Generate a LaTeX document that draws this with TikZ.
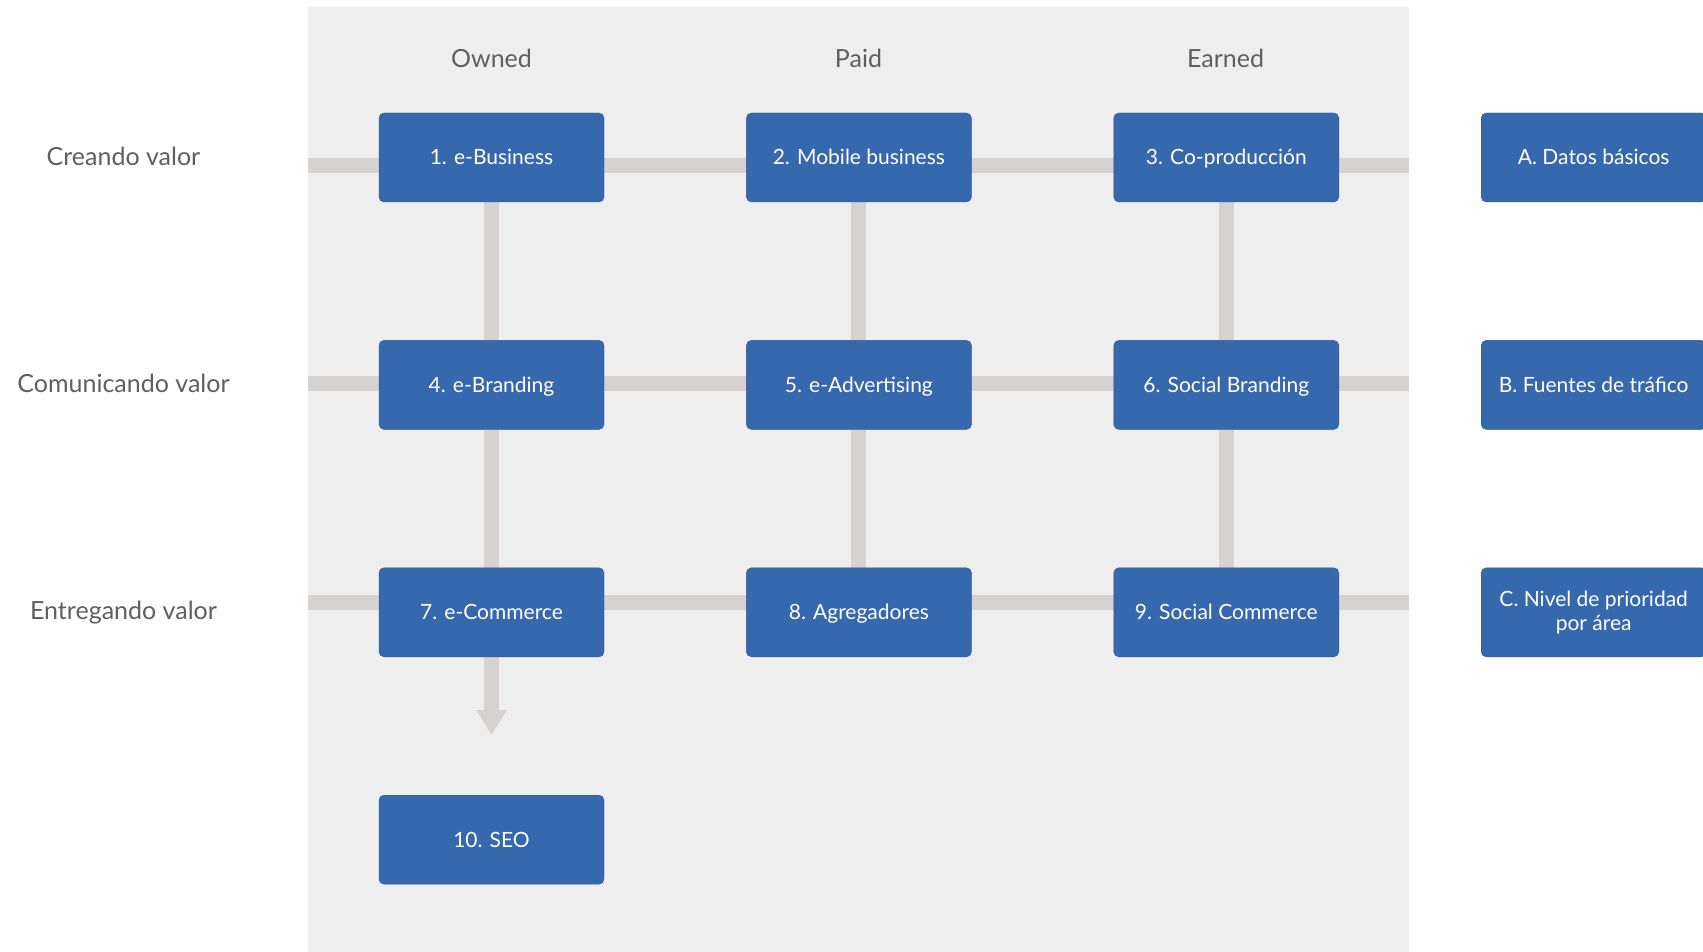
\documentclass[tikz,border=0pt]{standalone}
\usepackage{fontspec}
\setmainfont{Lato}
\usetikzlibrary{arrows.meta, positioning, backgrounds}
\definecolor{boxblue}{RGB}{54,104,173}
\definecolor{boxedge}{RGB}{44,86,148}
\definecolor{bargrey}{RGB}{214,210,210}
\definecolor{panelgrey}{RGB}{238,238,238}
\definecolor{labelgrey}{RGB}{95,95,95}

\begin{document}
\begin{tikzpicture}[x=1pt, y=-1pt, node distance=138pt and 142pt,
  box/.style={draw=boxedge, fill=boxblue, rounded corners=5pt, inner sep=2pt,
    minimum width=225pt, minimum height=89pt, align=center,
    text height=19pt, text depth=4pt,
    text=white, font=\fontsize{21}{24}\selectfont},
  lbl/.style={text=labelgrey, text height=24pt, text depth=5pt,
    font=\fontsize{25}{28}\selectfont},
  bar/.style={draw=bargrey, line width=15pt}]
\useasboundingbox (0,0) rectangle (1703,952);

% column and row titles
\node[lbl] (owned) at (491.5,58) {Owned};
\node[lbl] (paid) at (858.5,58) {Paid};
\node[lbl] (earned) at (1225.5,58) {Earned};
\node[lbl] (creando) at (123.5,156) {Creando valor};
\node[lbl] (comunicando) at (123.5,383) {Comunicando valor};
\node[lbl] (entregando) at (123.5,610) {Entregando valor};

% grid of boxes
\node[box] (b1) at (491.5,157.5) {1. e-Business};
\node[box, right=of b1] (b2) {2. Mobile business};
\node[box, right=of b2] (b3) {3. Co-producción};
\node[box, right=of b3] (bA) {A. Datos básicos};
\node[box, below=of b1] (b4) {4. e-Branding};
\node[box, right=of b4] (b5) {5. e-Advertising};
\node[box, right=of b5] (b6) {6. Social Branding};
\node[box, right=of b6] (bB) {B. Fuentes de tráfico};
\node[box, below=of b4] (b7) {7. e-Commerce};
\node[box, right=of b7] (b8) {8. Agregadores};
\node[box, right=of b8] (b9) {9. Social Commerce};
\node[box, right=of b9, text height=, text depth=] (bC) {C. Nivel de prioridad\\por área};
\node[box, below=of b7] (b10) {10. SEO};

% ends of the row bars
\coordinate (r1l) at (308,166);
\coordinate (r1r) at (1409,166);
\coordinate (r2l) at (308,383);
\coordinate (r2r) at (1409,383);
\coordinate (r3l) at (308,602);
\coordinate (r3r) at (1409,602);
\coordinate (seoend) at (491.5,735);

\begin{pgfonlayer}{background}
\fill[white] (0,0) rectangle (1703,952);
\fill[panelgrey] (308,7) rectangle (1409,952);
\draw[bar] (r1l) -- (r1r);
\draw[bar] (r2l) -- (r2r);
\draw[bar] (r3l) -- (r3r);
\draw[bar] (b1) -- (b4);
\draw[bar] (b4) -- (b7);
\draw[bar] (b2) -- (b5);
\draw[bar] (b5) -- (b8);
\draw[bar] (b3) -- (b6);
\draw[bar] (b6) -- (b9);
\draw[bar, -{Triangle[width=29pt, length=25pt]}] (b7) -- (seoend);
\end{pgfonlayer}
\end{tikzpicture}
\end{document}
